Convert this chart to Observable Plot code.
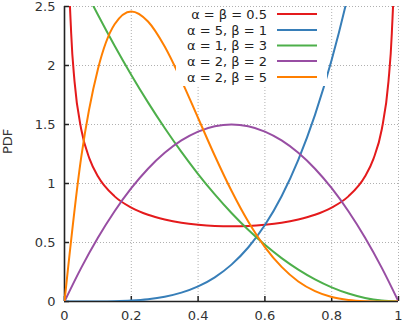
<!DOCTYPE html>
<html>
<head>
<meta charset="utf-8">
<script src="https://cdn.jsdelivr.net/npm/d3@7"></script>
<script src="https://cdn.jsdelivr.net/npm/@observablehq/plot@0.6"></script>
<style>
  html, body { margin: 0; padding: 0; background: #fff; }
  #chart { width: 404px; height: 326px; overflow: hidden; }
</style>
</head>
<body>
<div id="chart"></div>
<script>
// ---- data ----
const xGrid = [0, 0.05, 0.1, 0.15, 0.2, 0.25, 0.3, 0.35, 0.4, 0.45, 0.5, 0.55, 0.6, 0.65, 0.7, 0.75, 0.8, 0.85, 0.9, 0.95, 1];
const yBlue   = [0, 0.00003, 0.0005, 0.0025, 0.008, 0.0195, 0.0405, 0.075, 0.128, 0.205, 0.3125, 0.4575, 0.648, 0.8925, 1.2005, 1.582, 2.048, 2.61, 3.28, 4.07, 5];
const yGreen  = [3, 2.7075, 2.43, 2.1675, 1.92, 1.6875, 1.47, 1.2675, 1.08, 0.9075, 0.75, 0.6075, 0.48, 0.3675, 0.27, 0.1875, 0.12, 0.0675, 0.03, 0.0075, 0];
const yPurple = [0, 0.285, 0.54, 0.765, 0.96, 1.125, 1.26, 1.365, 1.44, 1.485, 1.5, 1.485, 1.44, 1.365, 1.26, 1.125, 0.96, 0.765, 0.54, 0.285, 0];
const yOrange = [0, 1.222, 1.968, 2.349, 2.458, 2.373, 2.161, 1.874, 1.555, 1.235, 0.938, 0.677, 0.461, 0.293, 0.170, 0.088, 0.038, 0.013, 0.003, 0.0002, 0];
const redX = [0.005, 0.01, 0.02, 0.03, 0.05, 0.075, 0.1, 0.15, 0.2, 0.25, 0.3, 0.35, 0.4, 0.45, 0.5, 0.55, 0.6, 0.65, 0.7, 0.75, 0.8, 0.85, 0.9, 0.925, 0.95, 0.97, 0.98, 0.99, 0.995];
const redY = [4.513, 3.199, 2.274, 1.866, 1.460, 1.209, 1.061, 0.891, 0.796, 0.735, 0.695, 0.667, 0.650, 0.640, 0.637, 0.640, 0.650, 0.667, 0.695, 0.735, 0.796, 0.891, 1.061, 1.209, 1.460, 1.866, 2.274, 3.199, 4.513];

const seriesNames = ["α = β = 0.5", "α = 5, β = 1", "α = 1, β = 3", "α = 2, β = 2", "α = 2, β = 5"];
const seriesColors = ["#e41a1c", "#377eb8", "#4daf4a", "#984ea3", "#ff7f00"];

const xTicks = [0, 0.2, 0.4, 0.6, 0.8, 1];
const xTickLabels = ["0", "0.2", "0.4", "0.6", "0.8", "1"];
const yTicks = [0, 0.5, 1, 1.5, 2, 2.5];
const yTickLabels = ["0", "0.5", "1", "1.5", "2", "2.5"];
const yLabel = "PDF";

// ---- build tidy rows ----
const rows = [];
redX.forEach((x, i) => rows.push({s: seriesNames[0], x, y: redY[i]}));
[yBlue, yGreen, yPurple, yOrange].forEach((ys, k) => {
  xGrid.forEach((x, i) => rows.push({s: seriesNames[k + 1], x, y: ys[i]}));
});

const W = 404, H = 326;
const mL = 64, mR = 6, mT = 6, mB = 25;

const chart = Plot.plot({
  width: W,
  height: H,
  marginLeft: mL,
  marginRight: mR,
  marginTop: mT,
  marginBottom: mB,
  style: {fontFamily: "DejaVu Sans, sans-serif", fontSize: "13px", color: "#333", background: "#fff"},
  x: {domain: [0, 1]},
  y: {domain: [0, 2.5]},
  color: {domain: seriesNames, range: seriesColors},
  marks: [
    Plot.gridX({ticks: xTicks, stroke: "#b0b0b0", strokeOpacity: 1, strokeDasharray: "1,2"}),
    Plot.gridY({ticks: yTicks, stroke: "#b0b0b0", strokeOpacity: 1, strokeDasharray: "1,2"}),
    Plot.axisX({ticks: xTicks, tickFormat: (d, i) => xTickLabels[xTicks.indexOf(d)], tickSize: -5, tickPadding: 14, label: null, strokeWidth: 1.5, stroke: "#222"}),
    Plot.axisY({ticks: yTicks, tickFormat: (d) => yTickLabels[yTicks.indexOf(d)], tickSize: -5, tickPadding: 14, label: null, strokeWidth: 1.5, stroke: "#222"}),
    Plot.ruleX([0], {stroke: "#222", strokeWidth: 1.6}),
    Plot.ruleY([0], {stroke: "#222", strokeWidth: 1.6}),
    Plot.line(rows, {x: "x", y: "y", z: "s", stroke: "s", strokeWidth: 2, curve: "monotone-x", clip: true}),
    Plot.text([yLabel], {frameAnchor: "left", text: d => d, rotate: -90, dx: -57, fill: "#333", fontSize: 13})
  ]
});

document.getElementById("chart").appendChild(chart);

// ---- legend (inside plot, top right) ----
const svg = d3.select(chart);
const lg = svg.append("g");
lg.append("rect").attr("x", 176).attr("y", 7).attr("width", 151).attr("height", 79).attr("fill", "#fff");
const rowY = [14, 30, 45.5, 61, 77];
seriesNames.forEach((name, i) => {
  lg.append("text")
    .attr("x", 267).attr("y", rowY[i]).attr("dy", "0.35em")
    .attr("text-anchor", "end").attr("fill", "#222")
    .style("font-family", "DejaVu Sans, sans-serif").style("font-size", "13px")
    .text(name);
  lg.append("line")
    .attr("x1", 277).attr("x2", 317).attr("y1", rowY[i]).attr("y2", rowY[i])
    .attr("stroke", seriesColors[i]).attr("stroke-width", 2);
});
</script>
</body>
</html>
